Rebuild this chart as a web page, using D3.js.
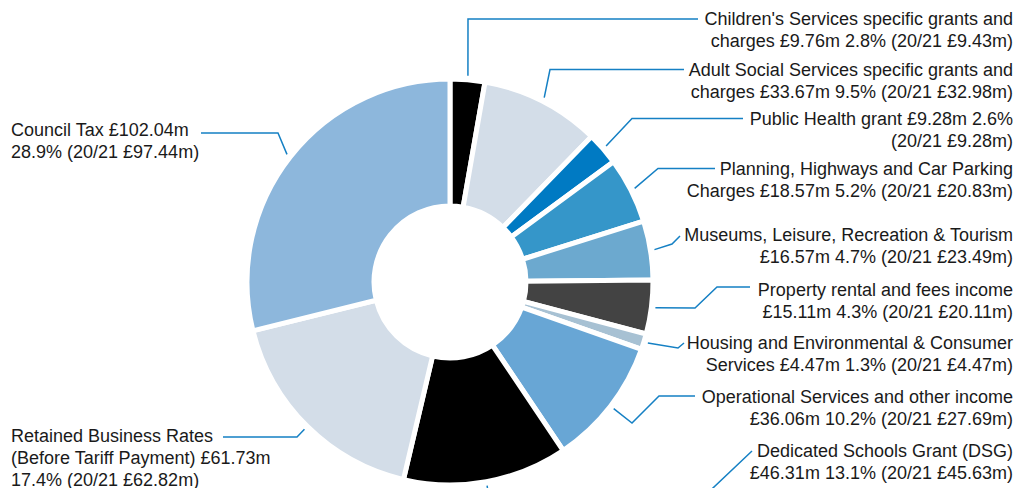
<!DOCTYPE html>
<html>
<head>
<meta charset="utf-8">
<script src="https://cdn.jsdelivr.net/npm/d3@7"></script>
<style>
  html, body { margin: 0; padding: 0; background: #fff; }
  svg { display: block; }
</style>
</head>
<body>
<div id="chart"></div>
<script>
// income sources 2021/22, clockwise from 12 o'clock
const categories = [
    "Children's Services specific grants and charges",
    "Adult Social Services specific grants and charges",
    "Public Health grant",
    "Planning, Highways and Car Parking Charges",
    "Museums, Leisure, Recreation & Tourism",
    "Property rental and fees income",
    "Housing and Environmental & Consumer Services",
    "Operational Services and other income",
    "Dedicated Schools Grant (DSG)",
    "Retained Business Rates (Before Tariff Payment)",
    "Council Tax"
]
const values = [9.76, 33.67, 9.28, 18.57, 16.57, 15.11, 4.47, 36.06, 46.31, 61.73, 102.04]
const percents = [2.8, 9.5, 2.6, 5.2, 4.7, 4.3, 1.3, 10.2, 13.1, 17.4, 28.9]
const priorValues = [9.43, 32.98, 9.28, 20.83, 23.49, 20.11, 4.47, 27.69, 45.63, 62.82, 97.44]
// number of words on each label line before a break
const labelBreaks = [[5], [6], [5], [5], [5], [5], [5], [5], [4], [3, 7], [3]]

const colors = ["#000000", "#d3dde8", "#007ac3", "#3596c9", "#6ca9cf", "#434343",
    "#a7c1d3", "#68a6d5", "#000000", "#d3dde8", "#8db7dc"]

// label layout: anchor side, text x, first line y, leader points after the slice edge
const labelLayout = [
    {side: 'end', x: 1013, y: 19, pts: [[468, 19], [698, 19]]},
    {side: 'end', x: 1013, y: 69.5, pts: [[550, 69.5], [684, 69.5]]},
    {side: 'end', x: 1013, y: 118.5, pts: [[632, 118.5], [743, 118.5]]},
    {side: 'end', x: 1013, y: 168.5, pts: [[658, 168.5], [715, 168.5]]},
    {side: 'end', x: 1013, y: 235, pts: [[672, 244], [680, 236]]},
    {side: 'end', x: 1013, y: 289.5, pts: [[695, 308], [717, 287], [750, 287]]},
    {side: 'end', x: 1013, y: 343, pts: [[678, 348], [684, 343]]},
    {side: 'end', x: 1013, y: 397, pts: [[632, 423], [659, 396], [695, 396]]},
    {side: 'end', x: 1013, y: 451, pts: [[490, 505], [695, 505], [752, 451]]},
    {side: 'start', x: 11, y: 436, pts: [[297, 437], [223, 437]]},
    {side: 'start', x: 11, y: 130, pts: [[278, 133], [201, 133]]}
]

const width = 1016
const height = 488
const cx = 450
const cy = 282
const lineHeight = 22

const svg = d3.select('#chart')
    .append('svg')
    .attr('width', width)
    .attr('height', height)

const data = categories.map((c, i) => ({name: c, value: values[i], pct: percents[i], prior: priorValues[i], i: i}))

const pie = d3.pie()
    .value(d => d.value)
    .sort(null)
    .startAngle(0)
    .endAngle(2 * Math.PI)

const arcs = pie(data)

const arc = d3.arc()
    .innerRadius(76)
    .outerRadius(203)

const edgeArc = d3.arc()
    .innerRadius(207)
    .outerRadius(207)

const g = svg.append('g')
    .attr('transform', `translate(${cx}, ${cy})`)

g.selectAll('path.slice')
    .data(arcs)
    .enter()
    .append('path')
    .attr('class', 'slice')
    .attr('d', arc)
    .style('fill', d => colors[d.data.i])
    .style('stroke', '#fff')
    .style('stroke-width', 5)
    .style('stroke-linejoin', 'miter')

// leader lines
const leader = d3.line()
arcs.forEach(d => {
    const layout = labelLayout[d.data.i]
    const c = edgeArc.centroid(d)
    const pts = [[c[0] + cx, c[1] + cy]].concat(layout.pts)
    svg.append('path')
        .attr('d', leader(pts))
        .style('fill', 'none')
        .style('stroke', '#1580c4')
        .style('stroke-width', 1.5)
})

function labelText(d) {
    return `${d.name} £${d.value.toFixed(2)}m ${d.pct.toFixed(1)}% (20/21 £${d.prior.toFixed(2)}m)`
}

function splitLines(text, breaks) {
    const words = text.split(' ')
    const lines = []
    let start = 0
    breaks.concat([words.length]).forEach(b => {
        lines.push(words.slice(start, b).join(' '))
        start = b
    })
    return lines
}

// labels
data.forEach(d => {
    const layout = labelLayout[d.i]
    const lines = splitLines(labelText(d), labelBreaks[d.i])
    const t = svg.append('text')
        .attr('text-anchor', layout.side)
        .style('font-family', 'Liberation Sans, Arial, sans-serif')
        .style('font-size', '18px')
        .style('fill', '#1a1a1a')
    lines.forEach((line, k) => {
        t.append('tspan')
            .attr('x', layout.x)
            .attr('y', layout.y + k * lineHeight)
            .attr('dy', '0.35em')
            .text(line)
    })
})
</script>
</body>
</html>
